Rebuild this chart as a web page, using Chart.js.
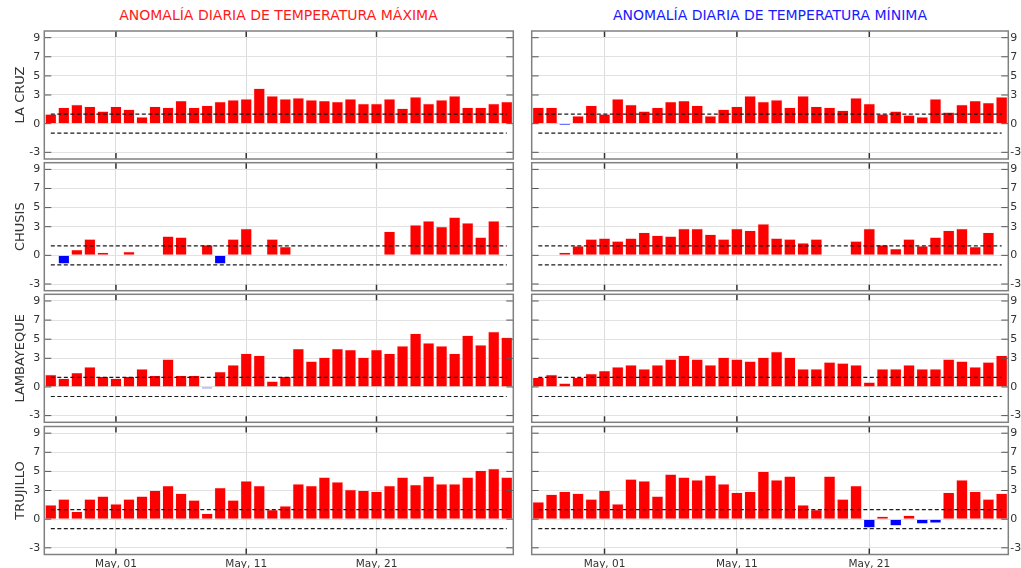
<!DOCTYPE html>
<html>
<head>
<meta charset="utf-8">
<script src="https://cdn.jsdelivr.net/npm/chart.js@4.4.0/dist/chart.umd.min.js"></script>
<style>
    body { margin: 0; background: #fff; }
    #wrap { position: relative; width: 1021px; height: 568px; overflow: hidden; }
    #wrap canvas { position: absolute; left: 0; top: 0; }
    .title { position: absolute; top: 7px; font: 14px 'DejaVu Sans', sans-serif; text-align: center; white-space: nowrap; }
</style>
</head>
<body>
<div id="wrap">
    <div class="title" style="left:44px;width:469px;color:#ff1a1a;">ANOMALÍA DIARIA DE TEMPERATURA MÁXIMA</div>
    <div class="title" style="left:532px;width:476px;color:#1a1aff;">ANOMALÍA DIARIA DE TEMPERATURA MÍNIMA</div>
</div>
<script>
const dayLabels = [
    'Apr, 26', 'Apr, 27', 'Apr, 28', 'Apr, 29', 'Apr, 30',
    'May, 01', 'May, 02', 'May, 03', 'May, 04', 'May, 05', 'May, 06', 'May, 07', 'May, 08', 'May, 09', 'May, 10',
    'May, 11', 'May, 12', 'May, 13', 'May, 14', 'May, 15', 'May, 16', 'May, 17', 'May, 18', 'May, 19', 'May, 20',
    'May, 21', 'May, 22', 'May, 23', 'May, 24', 'May, 25', 'May, 26', 'May, 27', 'May, 28', 'May, 29', 'May, 30', 'May, 31'
];
const shownTicks = ['May, 01', 'May, 11', 'May, 21'];
const yTicks = [-3, 0, 3, 5, 7, 9];
const upperRef = 1;
const lowerRef = -1;

const stations = ['LA CRUZ', 'CHUSIS', 'LAMBAYEQUE', 'TRUJILLO'];

// anomalia de temperatura maxima
const laCruzMax = [1.0, 1.7, 2.0, 1.8, 1.3, 1.8, 1.5, 0.7, 1.8, 1.7, 2.4, 1.7, 1.9, 2.3, 2.5, 2.6, 3.7, 2.9, 2.6, 2.7, 2.5, 2.4, 2.3, 2.6, 2.1, 2.1, 2.6, 1.6, 2.8, 2.1, 2.5, 2.9, 1.7, 1.7, 2.1, 2.3];
const chusisMax = [null, -0.9, 0.6, 1.7, 0.3, null, 0.4, null, null, 2.0, 1.9, null, 1.1, -0.9, 1.7, 2.8, null, 1.7, 0.9, null, null, null, null, null, null, null, 2.5, null, 3.2, 3.6, 3.0, 4.0, 3.4, 1.9, 3.6, null];
const lambayequeMax = [1.3, 0.9, 1.5, 2.1, 1.1, 0.9, 1.1, 1.9, 1.2, 2.9, 1.2, 1.2, -0.2, 1.6, 2.3, 3.5, 3.3, 0.6, 1.1, 4.0, 2.7, 3.1, 4.0, 3.9, 3.1, 3.9, 3.5, 4.3, 5.6, 4.6, 4.3, 3.5, 5.4, 4.4, 5.8, 5.2];
const trujilloMax = [1.5, 2.1, 0.8, 2.1, 2.4, 1.6, 2.1, 2.4, 3.0, 3.5, 2.7, 2.0, 0.6, 3.3, 2.0, 4.0, 3.5, 1.0, 1.4, 3.7, 3.5, 4.4, 3.9, 3.1, 3.0, 2.9, 3.5, 4.4, 3.6, 4.5, 3.7, 3.7, 4.4, 5.1, 5.3, 4.4];

// anomalia de temperatura minima
const laCruzMin = [1.7, 1.7, -0.2, 0.8, 1.9, 1.0, 2.6, 2.0, 1.3, 1.7, 2.3, 2.4, 1.9, 0.8, 1.5, 1.8, 2.9, 2.3, 2.5, 1.7, 2.9, 1.8, 1.7, 1.4, 2.7, 2.1, 1.0, 1.3, 0.9, 0.7, 2.6, 1.2, 2.0, 2.4, 2.2, 2.8];
const chusisMin = [null, null, 0.3, 1.0, 1.7, 1.8, 1.5, 1.8, 2.4, 2.1, 2.0, 2.8, 2.8, 2.2, 1.7, 2.8, 2.6, 3.3, 1.8, 1.7, 1.3, 1.7, null, null, 1.5, 2.8, 1.1, 0.7, 1.7, 1.0, 1.9, 2.6, 2.8, 0.9, 2.4, null];
const lambayequeMin = [1.0, 1.3, 0.4, 1.0, 1.4, 1.7, 2.1, 2.3, 1.9, 2.3, 2.9, 3.3, 2.9, 2.3, 3.1, 2.9, 2.7, 3.1, 3.7, 3.1, 1.9, 1.9, 2.6, 2.5, 2.3, 0.5, 1.9, 1.9, 2.3, 1.9, 1.9, 2.9, 2.7, 2.1, 2.6, 3.3];
const trujilloMin = [1.8, 2.6, 2.9, 2.7, 2.1, 3.0, 1.6, 4.2, 4.0, 2.4, 4.7, 4.4, 4.1, 4.6, 3.7, 2.8, 2.9, 5.0, 4.1, 4.5, 1.5, 1.0, 4.5, 2.1, 3.5, -0.9, 0.3, -0.7, 0.4, -0.5, -0.4, 2.8, 4.1, 2.9, 2.1, 2.7];

const maxSeries = [laCruzMax, chusisMax, lambayequeMax, trujilloMax];
const minSeries = [laCruzMin, chusisMin, lambayequeMin, trujilloMin];

const W = 1021, H = 568;
const rowTops = [31, 162.7, 294.3, 426.5];
const panelH = 128;
const leftBox = { left: 44.3, right: 513.3 };
const rightBox = { left: 531.7, right: 1008.3 };
const FONT = "'DejaVu Sans', sans-serif";

const framePlugin = {
    id: 'frame',
    afterDraw(chart) {
        const { ctx, chartArea: a, scales } = chart;
        const x = scales.x, y = scales.y;
        const line = (x1, y1, x2, y2) => { ctx.beginPath(); ctx.moveTo(x1, y1); ctx.lineTo(x2, y2); ctx.stroke(); };
        ctx.save();
        ctx.strokeStyle = '#555';
        ctx.lineWidth = 1;
        yTicks.forEach(v => {
            const py = y.getPixelForValue(v);
            line(a.left, py, a.left + 7, py);
            line(a.right - 7, py, a.right, py);
        });
        ctx.strokeStyle = '#333';
        ctx.lineWidth = 1.5;
        shownTicks.forEach(lbl => {
            const px = x.getPixelForValue(dayLabels.indexOf(lbl));
            line(px, a.top, px, a.top + 6);
            line(px, a.bottom - 6, px, a.bottom);
        });
        ctx.strokeStyle = '#808080';
        ctx.lineWidth = 1.5;
        ctx.strokeRect(a.left, a.top, a.right - a.left, a.bottom - a.top);
        ctx.restore();
    }
};

function makePanel(values, row, side, station) {
    const canvas = document.createElement('canvas');
    canvas.width = W;
    canvas.height = H;
    document.getElementById('wrap').appendChild(canvas);

    const box = side === 'left' ? leftBox : rightBox;
    const showX = row === 3;
    const xH = showX ? 13.5 : 0;
    const top = rowTops[row];
    const yW = side === 'left' ? box.left : W - box.right;

    const refData = v => dayLabels.map(() => v);

    new Chart(canvas, {
        data: {
            labels: dayLabels,
            datasets: [
                { type: 'line', data: refData(upperRef), borderColor: '#1a1a1a', borderWidth: 1.2, borderDash: [4, 2.5], pointRadius: 0, order: 0 },
                { type: 'line', data: refData(lowerRef), borderColor: '#1a1a1a', borderWidth: 1.2, borderDash: [4, 2.5], pointRadius: 0, order: 0 },
                {
                    type: 'bar',
                    data: values,
                    backgroundColor: values.map(v => v !== null && v < 0 ? '#0000ff' : '#ff0000'),
                    borderColor: values.map(v => v !== null && v < 0 ? 'rgba(0,0,255,0)' : 'rgba(255,200,200,0.8)'),
                    borderWidth: 0.6,
                    barPercentage: 0.87,
                    categoryPercentage: 1,
                    order: 1
                }
            ]
        },
        options: {
            responsive: false,
            animation: false,
            devicePixelRatio: 1,
            layout: {
                padding: {
                    left: side === 'left' ? 0 : box.left,
                    right: side === 'left' ? W - box.right : 0,
                    top: top,
                    bottom: H - (top + panelH) - xH
                }
            },
            plugins: { legend: { display: false }, tooltip: { enabled: false } },
            scales: {
                x: {
                    type: 'category',
                    offset: true,
                    grid: {
                        offset: false,
                        drawTicks: false,
                        color: c => shownTicks.includes(dayLabels[c.index]) ? '#dcdcdc' : 'rgba(0,0,0,0)'
                    },
                    border: { display: false },
                    ticks: {
                        display: showX,
                        autoSkip: false,
                        maxRotation: 0,
                        padding: 3,
                        color: '#333',
                        font: { family: FONT, size: 10.5 },
                        callback: (v, i) => shownTicks.includes(dayLabels[i]) ? dayLabels[i] : ''
                    },
                    afterFit: s => { s.height = xH; }
                },
                y: {
                    position: side,
                    min: -3.7,
                    max: 9.7,
                    afterBuildTicks: s => { s.ticks = yTicks.map(v => ({ value: v })); },
                    grid: { drawTicks: false, color: '#e2e2e2' },
                    border: { display: false },
                    ticks: {
                        padding: side === 'left' ? 4 : 2,
                        color: '#333',
                        font: { family: FONT, size: 11 }
                    },
                    title: {
                        display: side === 'left',
                        text: station,
                        color: '#333',
                        font: { family: FONT, size: 13 },
                        padding: { top: 13, bottom: 0 }
                    },
                    afterFit: s => { s.width = yW; }
                }
            }
        },
        plugins: [framePlugin]
    });
}

stations.forEach((st, r) => {
    makePanel(maxSeries[r], r, 'left', st);
    makePanel(minSeries[r], r, 'right', st);
});
</script>
</body>
</html>
